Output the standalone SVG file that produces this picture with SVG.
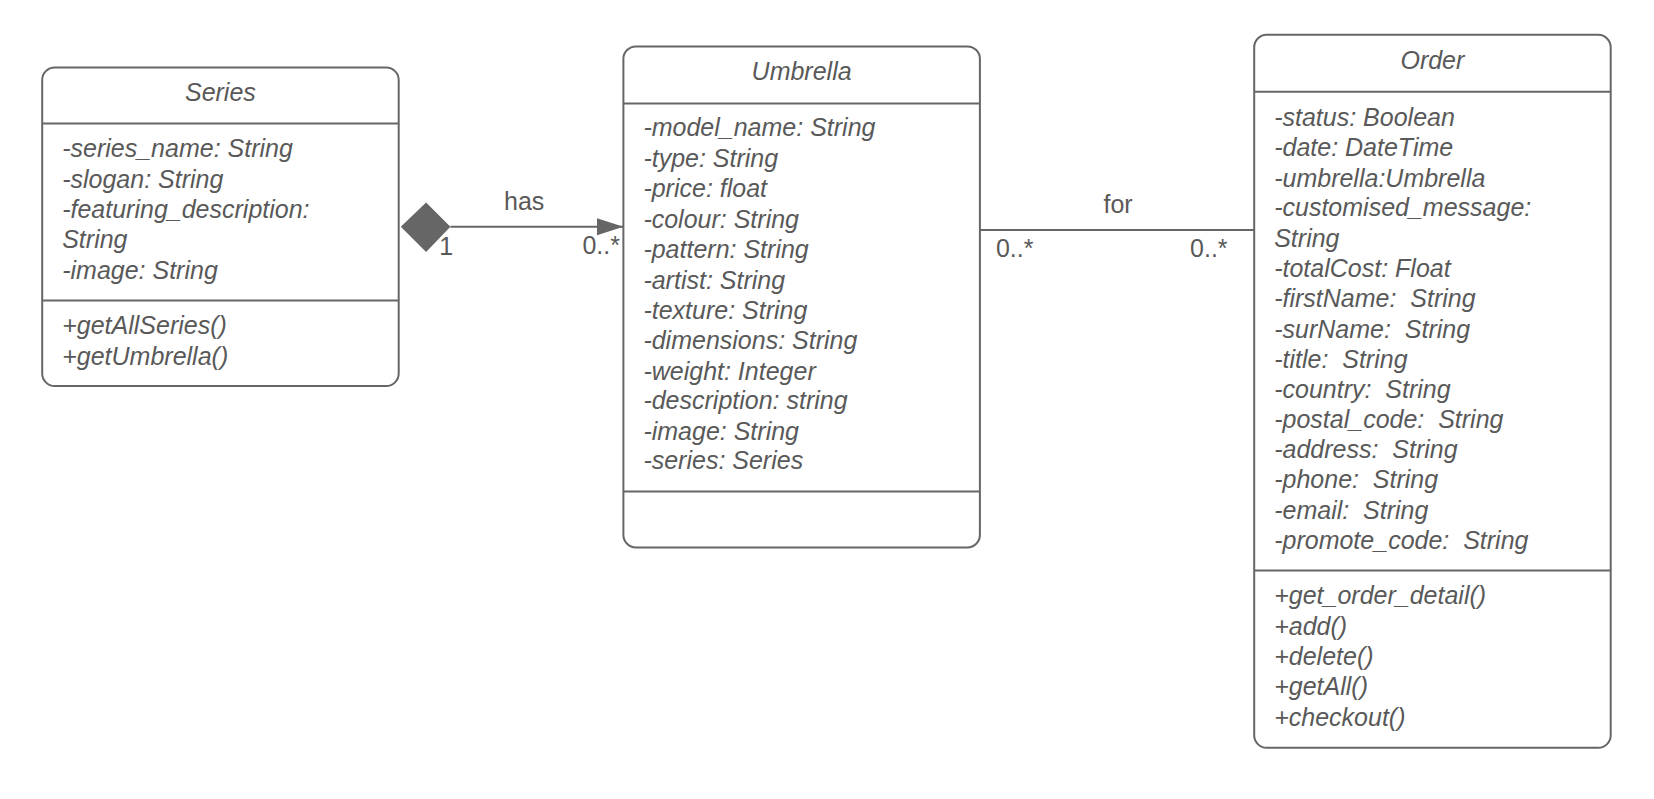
<svg xmlns="http://www.w3.org/2000/svg" width="1654" height="799" viewBox="0 0 1654 799">
<style>
.box{fill:#fff;stroke:#666;stroke-width:2}
.ln{stroke:#666;stroke-width:2;fill:none}
text{font-family:"Liberation Sans",Arial,sans-serif;font-size:25px;fill:#595959;white-space:pre}
.it{font-style:italic}
.mid{text-anchor:middle}
</style>
<defs>
<marker id="arr" markerWidth="28" markerHeight="20" refX="26.4" refY="10" orient="auto" markerUnits="userSpaceOnUse">
<path d="M0,1.5 L26.4,10 L0,18.5 Z" fill="#666"/>
</marker>
</defs>
<rect width="1654" height="799" fill="#fff"/>
<g id="series">
<rect class="box" x="42.2" y="67.5" width="356.5" height="318.5" rx="12.5"/>
<line class="ln" x1="42.2" y1="123.4" x2="398.7" y2="123.4"/>
<line class="ln" x1="42.2" y1="300.6" x2="398.7" y2="300.6"/>
<text class="it mid" x="220.4" y="101.3">Series</text>
<text class="it" x="62.2" y="157.2">-series_name: String</text>
<text class="it" x="62.2" y="187.8">-slogan: String</text>
<text class="it" x="62.2" y="218.3">-featuring_description:</text>
<text class="it" x="62.2" y="247.9">String</text>
<text class="it" x="62.2" y="278.5">-image: String</text>
<text class="it" x="62.2" y="334.4">+getAllSeries()</text>
<text class="it" x="62.2" y="365">+getUmbrella()</text>
</g>
<g id="umbrella">
<rect class="box" x="623.4" y="46.4" width="356.5" height="501" rx="12.5"/>
<line class="ln" x1="623.4" y1="103.4" x2="979.9" y2="103.4"/>
<line class="ln" x1="623.4" y1="491.5" x2="979.9" y2="491.5"/>
<text class="it mid" x="801.6" y="80.2">Umbrella</text>
<text class="it" x="643.4" y="136.1">-model_name: String</text>
<text class="it" x="643.4" y="166.7">-type: String</text>
<text class="it" x="643.4" y="197.2">-price: float</text>
<text class="it" x="643.4" y="227.8">-colour: String</text>
<text class="it" x="643.4" y="258.4">-pattern: String</text>
<text class="it" x="643.4" y="289">-artist: String</text>
<text class="it" x="643.4" y="318.5">-texture: String</text>
<text class="it" x="643.4" y="349.1">-dimensions: String</text>
<text class="it" x="643.4" y="379.7">-weight: Integer</text>
<text class="it" x="643.4" y="409.3">-description: string</text>
<text class="it" x="643.4" y="439.9">-image: String</text>
<text class="it" x="643.4" y="469.4">-series: Series</text>
</g>
<g id="order">
<rect class="box" x="1254.2" y="34.8" width="356.5" height="713" rx="12.5"/>
<line class="ln" x1="1254.2" y1="91.8" x2="1610.7" y2="91.8"/>
<line class="ln" x1="1254.2" y1="570.6" x2="1610.7" y2="570.6"/>
<text class="it mid" x="1432.4" y="68.6">Order</text>
<text class="it" x="1274.2" y="125.5">-status: Boolean</text>
<text class="it" x="1274.2" y="156.1">-date: DateTime</text>
<text class="it" x="1274.2" y="186.7">-umbrella:Umbrella</text>
<text class="it" x="1274.2" y="216.2">-customised_message:</text>
<text class="it" x="1274.2" y="246.8">String</text>
<text class="it" x="1274.2" y="277.4">-totalCost: Float</text>
<text class="it" x="1274.2" y="306.9">-firstName:  String</text>
<text class="it" x="1274.2" y="337.5">-surName:  String</text>
<text class="it" x="1274.2" y="368.1">-title:  String</text>
<text class="it" x="1274.2" y="397.7">-country:  String</text>
<text class="it" x="1274.2" y="428.2">-postal_code:  String</text>
<text class="it" x="1274.2" y="457.8">-address:  String</text>
<text class="it" x="1274.2" y="488.4">-phone:  String</text>
<text class="it" x="1274.2" y="519">-email:  String</text>
<text class="it" x="1274.2" y="548.5">-promote_code:  String</text>
<text class="it" x="1274.2" y="604.4">+get_order_detail()</text>
<text class="it" x="1274.2" y="635">+add()</text>
<text class="it" x="1274.2" y="664.5">+delete()</text>
<text class="it" x="1274.2" y="695.1">+getAll()</text>
<text class="it" x="1274.2" y="725.7">+checkout()</text>
</g>
<g id="connectors">
<path d="M400.8,226.8 L426.1,202.5 L450.4,226.8 L426.1,252.1 Z" fill="#666"/>
<line class="ln" x1="450.4" y1="226.8" x2="623.4" y2="226.8" marker-end="url(#arr)"/>
<text class="mid" x="524.2" y="209.9">has</text>
<text class="mid" x="446.2" y="255.3">1</text>
<text class="mid" x="601.2" y="254.2">0..*</text>
<line class="ln" x1="979.9" y1="229.9" x2="1254.2" y2="229.9"/>
<text class="mid" x="1118.1" y="213.1">for</text>
<text class="mid" x="1014.7" y="257.4">0..*</text>
<text class="mid" x="1208.8" y="257.4">0..*</text>
</g>
</svg>
